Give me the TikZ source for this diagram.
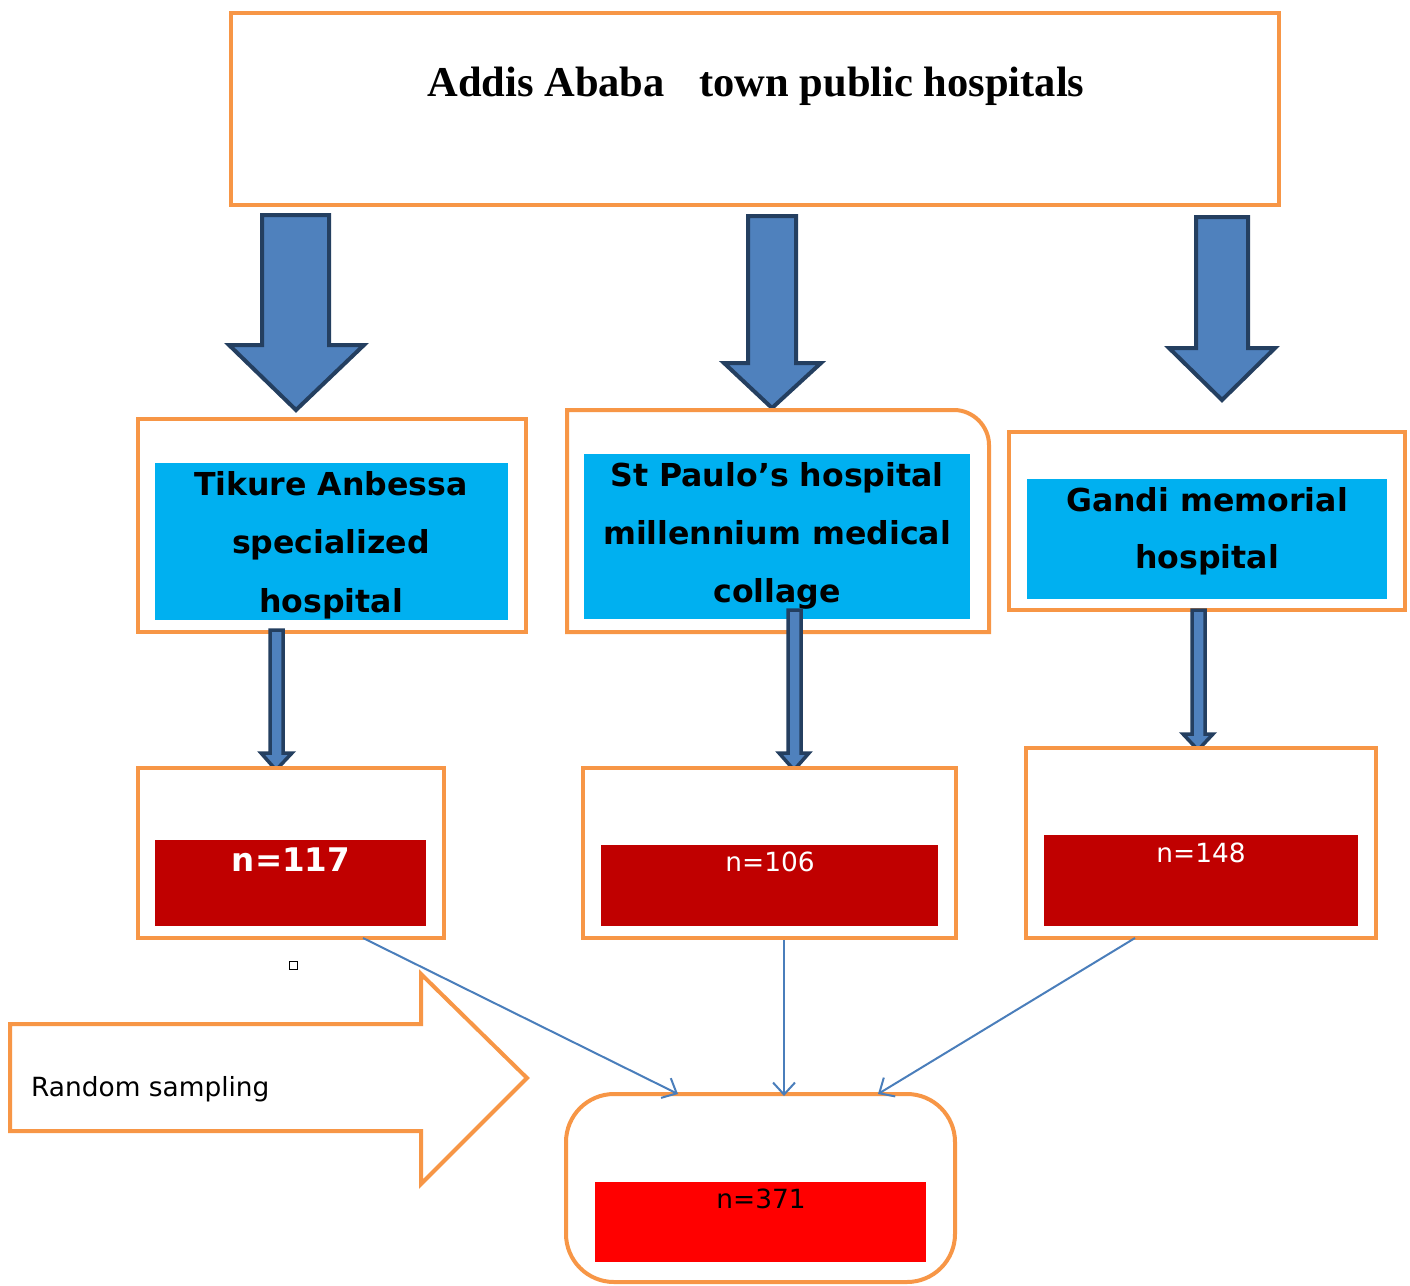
\documentclass[tikz,border=0pt]{standalone}
\usepackage{fontspec}
\setmainfont{DejaVu Sans}
\newfontfamily\titlefont{Liberation Serif}
\usetikzlibrary{arrows.meta}
\definecolor{orng}{HTML}{F79646}
\definecolor{cyanbox}{HTML}{00B0F0}
\definecolor{dred}{HTML}{C00000}
\definecolor{bred}{HTML}{FF0000}
\definecolor{arfill}{HTML}{4F81BD}
\definecolor{arline}{HTML}{243F60}
\definecolor{conn}{HTML}{4A7EBB}
\begin{document}
\begin{tikzpicture}[x=1pt,y=-1pt,
  obox/.style={draw=orng,line width=4pt,fill=white},
  cbox/.style={fill=cyanbox,draw=none},
  rbox/.style={fill=dred,draw=none},
  bigarrow/.style={draw=arline,line width=4pt,fill=arfill,line join=miter},
  smallarrow/.style={draw=arline,line width=3.5pt,fill=arfill,line join=miter},
  hosptext/.style={anchor=base,inner sep=0pt,font=\fontsize{31.6}{31.6}\selectfont\bfseries},
  ntext/.style={anchor=base,inner sep=0pt,font=\fontsize{26.4}{26.4}\selectfont},
  connector/.style={draw=conn,line width=2pt,-{Straight Barb[length=12pt,width=22pt,line width=2pt]}}
]
\useasboundingbox (0,0) rectangle (1410,1285);
% title
\draw[obox] (231,13) rectangle (1279,205);
\node[anchor=base,inner sep=0pt,font=\titlefont\fontsize{42.5}{42.5}\selectfont\bfseries] (title) at (756,96) {Addis Ababa\hspace{24pt} town public hospitals};
% big arrows
\draw[bigarrow] (262,215) -- (329,215) -- (329,345) -- (364,345) -- (296,410) -- (229,345) -- (262,345) -- cycle;
\draw[bigarrow] (748,216) -- (796,216) -- (796,363) -- (821,363) -- (772,408) -- (724,363) -- (748,363) -- cycle;
\draw[bigarrow] (1196,217) -- (1248,217) -- (1248,348) -- (1275,348) -- (1222,400) -- (1169,348) -- (1196,348) -- cycle;
% hospital boxes
\draw[obox] (138,419) rectangle (526,632);
\fill[cyanbox] (155,463) rectangle (508,620);
\node[hosptext] (t1a) at (331,495) {Tikure Anbessa};
\node[hosptext] (t1b) at (331,553) {specialized};
\node[hosptext] (t1c) at (331,612) {hospital};
\draw[obox] (567,632) -- (567,410) -- (954,410) .. controls (973,410) and (989,426) .. (989,445) -- (989,632) -- cycle;
\fill[cyanbox] (584,454) rectangle (970,619);
\node[hosptext] (t2a) at (777,486) {St Paulo’s hospital};
\node[hosptext] (t2b) at (777,544) {millennium medical};
\node[hosptext] (t2c) at (777,602) {collage};
\draw[obox] (1009,432) rectangle (1405,610);
\fill[cyanbox] (1027,479) rectangle (1387,599);
\node[hosptext] (t3a) at (1207,511) {Gandi memorial};
\node[hosptext] (t3b) at (1207,568) {hospital};
% small arrows
\draw[smallarrow] (270,630) -- (283,630) -- (283,753) -- (292,753) -- (276,770) -- (261,753) -- (270,753) -- cycle;
\draw[smallarrow] (788,610) -- (801,610) -- (801,753) -- (809,753) -- (794,770) -- (779,753) -- (788,753) -- cycle;
\draw[smallarrow] (1192,610) -- (1205,610) -- (1205,734) -- (1213,734) -- (1198,750) -- (1183,734) -- (1192,734) -- cycle;
% n boxes
\node[obox,minimum width=306pt,minimum height=170pt,inner sep=0pt] (b1) at (291,853) {};
\fill[dred] (155,840) rectangle (426,926);
\node[ntext,text=white,font=\fontsize{32.5}{32.5}\selectfont\bfseries] (n1) at (291,871) {n=117};
\node[obox,minimum width=373pt,minimum height=170pt,inner sep=0pt] (b2) at (769.5,853) {};
\fill[dred] (601,845) rectangle (938,926);
\node[ntext,text=white] (n2) at (770,871) {n=106};
\node[obox,minimum width=350pt,minimum height=190pt,inner sep=0pt] (b3) at (1201,843) {};
\fill[dred] (1044,835) rectangle (1358,926);
\node[ntext,text=white] (n3) at (1201,862) {n=148};
% final box
\node[obox,rounded corners=48pt,minimum width=389pt,minimum height=188pt,inner sep=0pt] (fin) at (760.5,1188) {};
\fill[bred] (595,1182) rectangle (926,1262);
\node[ntext,text=black] (n4) at (761,1208) {n=371};
% random sampling arrow
\draw[obox,line join=miter] (10,1024) -- (421,1024) -- (421,974) -- (527,1078) -- (421,1184) -- (421,1131) -- (10,1131) -- cycle;
\node[ntext,anchor=base west] (rs) at (31,1096) {Random sampling};
% small square
\draw[line width=1pt] (289,961) rectangle (297,969);
% connectors
\coordinate (c1s) at (363,938);
\coordinate (c1e) at (678,1094);
\coordinate (c2s) at (784,940);
\coordinate (c2e) at (784,1096);
\coordinate (c3s) at (1135,938);
\coordinate (c3e) at (878,1094);
\draw[connector] (c1s) -- (c1e);
\draw[connector] (c2s) -- (c2e);
\draw[connector] (c3s) -- (c3e);
\end{tikzpicture}
\end{document}
